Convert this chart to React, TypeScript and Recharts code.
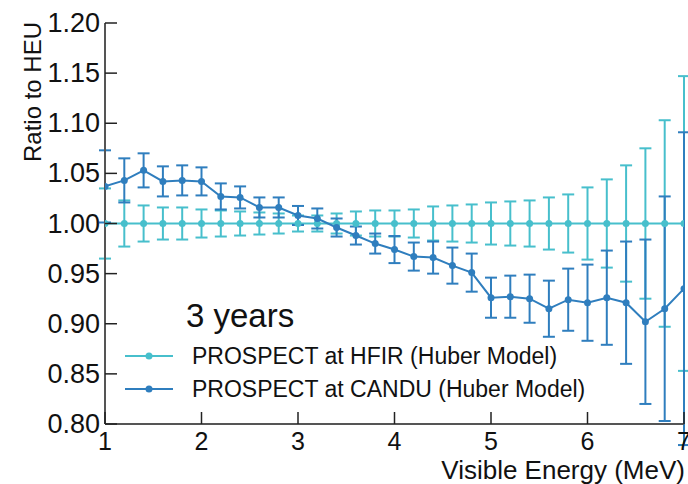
import React from 'react';
import { ComposedChart, Line, XAxis, YAxis, ErrorBar, Legend } from 'recharts';

// visible energy bin centres (MeV)
const energy = [
  1.0, 1.2, 1.4, 1.6, 1.8, 2.0, 2.2, 2.4, 2.6, 2.8, 3.0,
  3.2, 3.4, 3.6, 3.8, 4.0, 4.2, 4.4, 4.6, 4.8, 5.0,
  5.2, 5.4, 5.6, 5.8, 6.0, 6.2, 6.4, 6.6, 6.8, 7.0,
];

// PROSPECT at HFIR (Huber Model)
const hfirRatio = [
  1.0, 1.0, 1.0, 1.0, 1.0, 1.0, 1.0, 1.0, 1.0, 1.0, 1.0,
  1.0, 1.0, 1.0, 1.0, 1.0, 1.0, 1.0, 1.0, 1.0, 1.0,
  1.0, 1.0, 1.0, 1.0, 1.0, 1.0, 1.0, 1.0, 1.0, 1.0,
];
const hfirErr = [
  0.035, 0.023, 0.018, 0.016, 0.016, 0.014, 0.013, 0.012, 0.011, 0.010, 0.008,
  0.008, 0.010, 0.012, 0.013, 0.013, 0.014, 0.017, 0.018, 0.019, 0.021,
  0.022, 0.023, 0.026, 0.029, 0.036, 0.044, 0.058, 0.075, 0.103, 0.147,
];

// PROSPECT at CANDU (Huber Model)
const canduRatio = [
  1.037, 1.043, 1.053, 1.042, 1.043, 1.042, 1.027, 1.026, 1.016, 1.016, 1.008,
  1.005, 0.996, 0.988, 0.980, 0.974, 0.967, 0.966, 0.958, 0.951, 0.926,
  0.927, 0.925, 0.915, 0.924, 0.921, 0.926, 0.921, 0.902, 0.915, 0.935,
];
const canduErr = [
  0.036, 0.022, 0.017, 0.015, 0.015, 0.014, 0.013, 0.011, 0.010, 0.010, 0.0095,
  0.010, 0.009, 0.009, 0.010, 0.0135, 0.014, 0.016, 0.018, 0.019, 0.020,
  0.021, 0.024, 0.028, 0.031, 0.038, 0.047, 0.061, 0.082, 0.112, 0.156,
];

const xTicks = [1, 2, 3, 4, 5, 6, 7];
const yTicks = [0.8, 0.85, 0.9, 0.95, 1.0, 1.05, 1.1, 1.15, 1.2];

const HFIR_NAME = 'PROSPECT at HFIR (Huber Model)';
const CANDU_NAME = 'PROSPECT at CANDU (Huber Model)';
const legendOrder = [HFIR_NAME, CANDU_NAME];

const HFIR_COLOR = '#47bfcc';
const CANDU_COLOR = '#2f7ebe';
const AXIS_COLOR = '#555';
const FONT = '"Liberation Sans", Arial, Helvetica, sans-serif';

const rows = energy.map((e, i) => ({
  e,
  hfir: hfirRatio[i],
  hfirErr: hfirErr[i],
  candu: canduRatio[i],
  canduErr: canduErr[i],
}));

// ticks point inward, so draw the tick mark together with the label
const XTick = (props: any) => {
  const { x, y, payload } = props;
  return (
    <g>
      <line x1={x} x2={x} y1={y - 9} y2={y - 21} stroke="#222" strokeWidth={1.5} />
      <text x={x} y={y + 17} textAnchor="middle" fontSize={25} fill="#111" fontFamily={FONT}>
        {payload.value}
      </text>
    </g>
  );
};

const YTick = (props: any) => {
  const { x, y, payload } = props;
  return (
    <g>
      <line x1={x + 5} x2={x + 17} y1={y} y2={y} stroke="#222" strokeWidth={1.5} />
      <text x={x} y={y + 9} textAnchor="end" fontSize={27} fill="#111" fontFamily={FONT}>
        {payload.value.toFixed(2)}
      </text>
    </g>
  );
};

const XLabel = (props: any) => {
  const { viewBox } = props;
  return (
    <text
      x={viewBox.x + viewBox.width + 1}
      y={viewBox.y + 55}
      textAnchor="end"
      fontSize={26}
      fill="#111"
      fontFamily={FONT}
    >
      Visible Energy (MeV)
    </text>
  );
};

const YLabel = (props: any) => {
  const { viewBox } = props;
  const cx = viewBox.x + 33;
  const cy = viewBox.y + 69;
  return (
    <text
      x={cx}
      y={cy + 8}
      transform={`rotate(-90 ${cx} ${cy})`}
      textAnchor="middle"
      fontSize={24}
      fill="#111"
      fontFamily={FONT}
    >
      Ratio to HEU
    </text>
  );
};

const LegendBox = (props: any) => {
  const items = [...(props.payload || [])].sort(
    (a: any, b: any) => legendOrder.indexOf(a.value) - legendOrder.indexOf(b.value)
  );
  return (
    <div style={{ position: 'relative', fontFamily: FONT, color: '#111' }}>
      <div style={{ position: 'absolute', left: 186, top: 299, fontSize: 33, lineHeight: '33px', whiteSpace: 'nowrap' }}>
        3 years
      </div>
      {items.map((p: any, i: number) => (
        <div
          key={p.value}
          style={{
            position: 'absolute',
            left: 125,
            top: 339.5 + i * 33,
            height: 33,
            display: 'flex',
            alignItems: 'center',
            whiteSpace: 'nowrap',
          }}
        >
          <svg width={48} height={10} style={{ marginRight: 19 }}>
            <line x1={0} x2={48} y1={5} y2={5} stroke={p.color} strokeWidth={2} />
            <circle cx={24} cy={5} r={3.5} fill={p.color} />
          </svg>
          <span style={{ fontSize: 23, lineHeight: '33px' }}>{p.value}</span>
        </div>
      ))}
    </div>
  );
};

export default function App() {
  return (
    <div style={{ position: 'absolute', left: 0, top: 0, width: 688, height: 484, background: '#fff' }}>
      <ComposedChart width={688} height={484} data={rows} margin={{ top: 23, right: 4, bottom: 0, left: 0 }}>
        <XAxis
          dataKey="e"
          type="number"
          domain={[1, 7]}
          ticks={xTicks}
          interval={0}
          allowDataOverflow
          height={60}
          tickSize={0}
          tickMargin={9}
          tickLine={false}
          axisLine={{ stroke: AXIS_COLOR, strokeWidth: 2 }}
          tick={<XTick />}
          label={<XLabel />}
        />
        <XAxis
          xAxisId="top"
          orientation="top"
          type="number"
          domain={[1, 7]}
          height={0}
          tick={false}
          tickLine={false}
          axisLine={{ stroke: AXIS_COLOR, strokeWidth: 2 }}
        />
        <YAxis
          type="number"
          domain={[0.8, 1.2]}
          ticks={yTicks}
          interval={0}
          allowDataOverflow
          width={105}
          tickSize={0}
          tickMargin={5}
          tickLine={false}
          axisLine={{ stroke: AXIS_COLOR, strokeWidth: 2 }}
          tick={<YTick />}
          label={<YLabel />}
        />
        <YAxis
          yAxisId="right"
          orientation="right"
          type="number"
          domain={[0.8, 1.2]}
          width={0}
          tick={false}
          tickLine={false}
          axisLine={{ stroke: AXIS_COLOR, strokeWidth: 2 }}
        />
        <Legend
          content={<LegendBox />}
          wrapperStyle={{ position: 'absolute', left: 0, top: 0, width: 0, height: 0 }}
        />
        <Line
          type="linear"
          dataKey="hfir"
          name={HFIR_NAME}
          stroke={HFIR_COLOR}
          strokeWidth={2}
          dot={{ r: 3.5, fill: HFIR_COLOR, stroke: HFIR_COLOR, strokeWidth: 0 }}
          activeDot={false}
          isAnimationActive={false}
        >
          <ErrorBar dataKey="hfirErr" direction="y" width={6} stroke={HFIR_COLOR} strokeWidth={2} isAnimationActive={false} />
        </Line>
        <Line
          type="linear"
          dataKey="candu"
          name={CANDU_NAME}
          stroke={CANDU_COLOR}
          strokeWidth={2}
          dot={{ r: 3.5, fill: CANDU_COLOR, stroke: CANDU_COLOR, strokeWidth: 0 }}
          activeDot={false}
          isAnimationActive={false}
        >
          <ErrorBar dataKey="canduErr" direction="y" width={6} stroke={CANDU_COLOR} strokeWidth={2} isAnimationActive={false} />
        </Line>
      </ComposedChart>
    </div>
  );
}
